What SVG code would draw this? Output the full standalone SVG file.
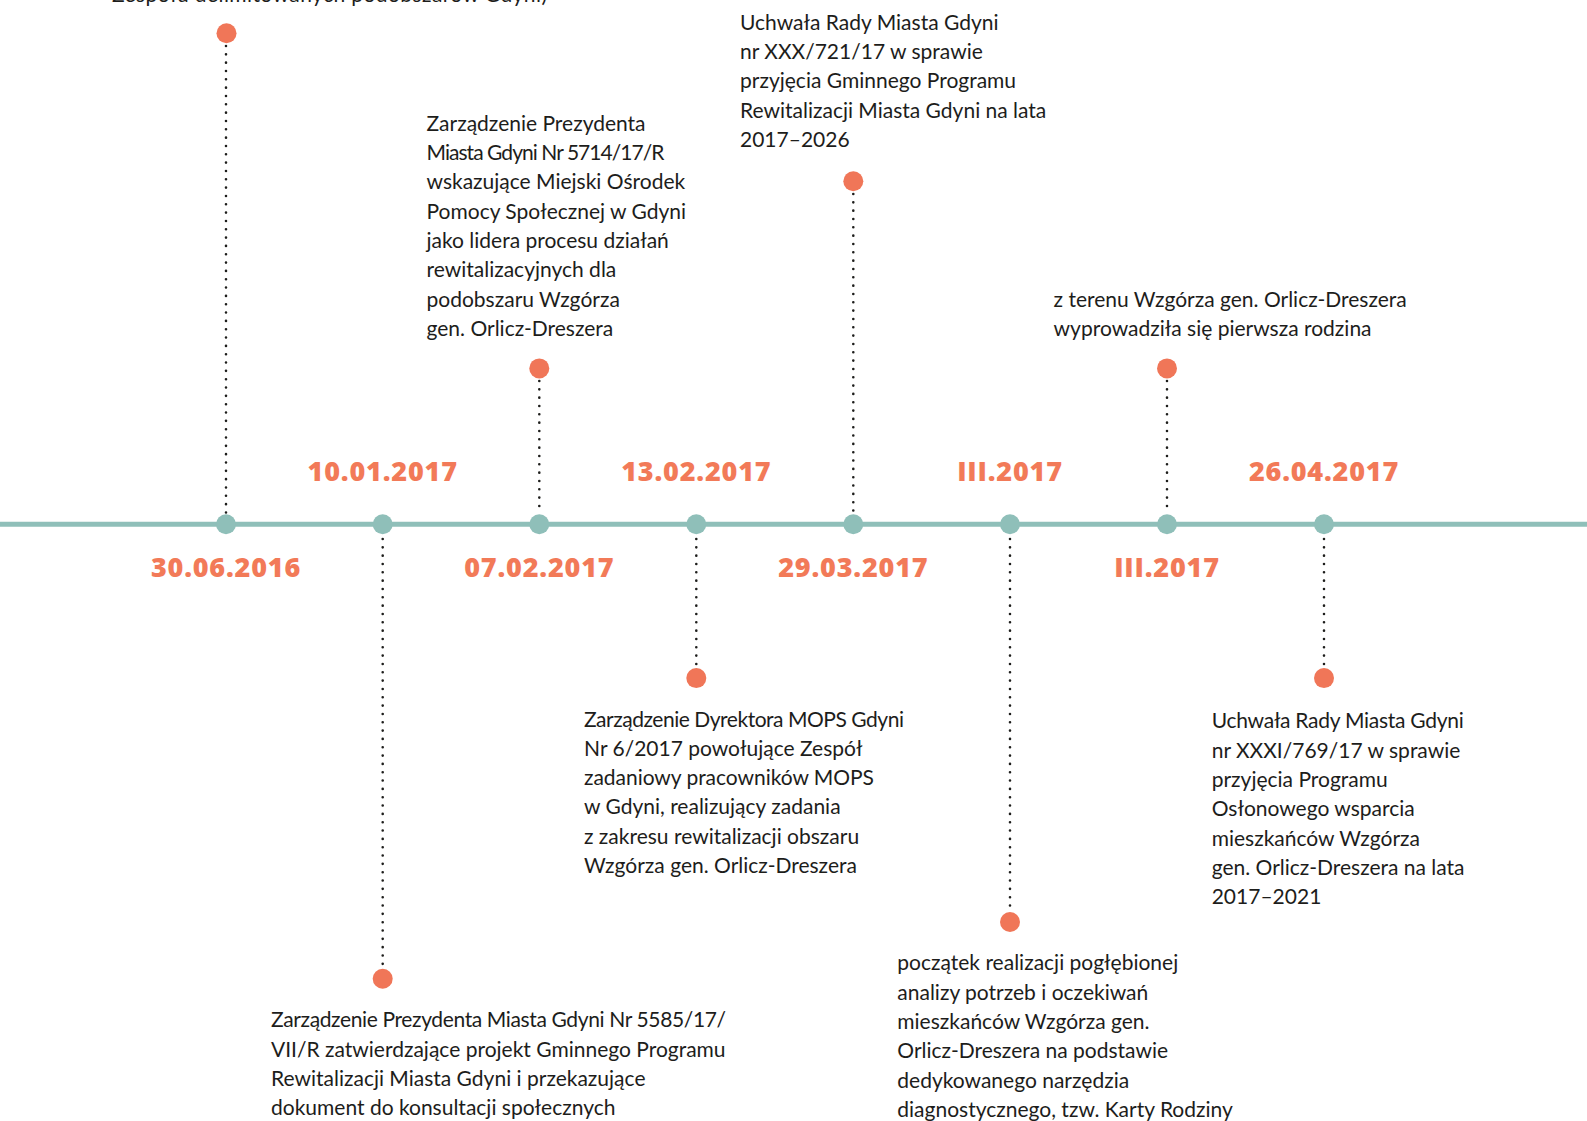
<svg xmlns="http://www.w3.org/2000/svg" width="1587" height="1121" viewBox="0 0 1587 1121">
<style>
.t{font-family:Lato,"Noto Sans",sans-serif;font-size:21px;fill:#1d1d1b}
.d{font-family:"Open Sans","Liberation Sans",sans-serif;font-weight:800;font-size:27px;fill:#f27a58;text-anchor:middle;letter-spacing:0.8px}
.dot{fill:#f07658}
.node{fill:#8fbfb9}
.lead{stroke:#1d1d1b;stroke-width:2.6;stroke-linecap:round;stroke-dasharray:0 8.33;fill:none}
</style>
<rect width="1587" height="1121" fill="#ffffff"/>
<g id="timeline">
<line x1="0" y1="524.3" x2="1587" y2="524.3" stroke="#8fbfb9" stroke-width="5"/>
</g>
<g id="connectors">
<line class="lead" x1="226" y1="46" x2="226" y2="514"/>
<line class="lead" x1="382.7" y1="539" x2="382.7" y2="966"/>
<line class="lead" x1="539.3" y1="381" x2="539.3" y2="514"/>
<line class="lead" x1="696.3" y1="539" x2="696.3" y2="666"/>
<line class="lead" x1="853.3" y1="194" x2="853.3" y2="514"/>
<line class="lead" x1="1010" y1="539" x2="1010" y2="910"/>
<line class="lead" x1="1167" y1="381" x2="1167" y2="514"/>
<line class="lead" x1="1324" y1="539" x2="1324" y2="666"/>
</g>
<g id="event1">
<circle class="node" cx="226" cy="524.3" r="10"/>
<circle class="dot" cx="226.5" cy="33.3" r="10"/>
<text class="d" x="226" y="577">30.06.2016</text>
<text class="t" x="112" y="2" textLength="435">Zespołu delimitowanych podobszarów Gdyni)</text>
</g>
<g id="event2">
<circle class="node" cx="382.7" cy="524.3" r="10"/>
<circle class="dot" cx="382.7" cy="978.7" r="10"/>
<text class="d" x="382.7" y="481">10.01.2017</text>
<text class="t"><tspan x="271" y="1027.4" textLength="455">Zarządzenie Prezydenta Miasta Gdyni Nr 5585/17/</tspan><tspan x="271" y="1056.75">VII/R zatwierdzające projekt Gminnego Programu</tspan><tspan x="271" y="1086.1">Rewitalizacji Miasta Gdyni i przekazujące</tspan><tspan x="271" y="1115.45">dokument do konsultacji społecznych</tspan></text>
</g>
<g id="event3">
<circle class="node" cx="539.3" cy="524.3" r="10"/>
<circle class="dot" cx="539.3" cy="368.4" r="10"/>
<text class="d" x="539.3" y="577">07.02.2017</text>
<text class="t"><tspan x="426.5" y="130.7">Zarządzenie Prezydenta</tspan><tspan x="426.5" y="160.05" textLength="238">Miasta Gdyni Nr 5714/17/R</tspan><tspan x="426.5" y="189.4">wskazujące Miejski Ośrodek</tspan><tspan x="426.5" y="218.75">Pomocy Społecznej w Gdyni</tspan><tspan x="426.5" y="248.1">jako lidera procesu działań</tspan><tspan x="426.5" y="277.45">rewitalizacyjnych dla</tspan><tspan x="426.5" y="306.8">podobszaru Wzgórza</tspan><tspan x="426.5" y="336.15">gen. Orlicz-Dreszera</tspan></text>
</g>
<g id="event4">
<circle class="node" cx="696.3" cy="524.3" r="10"/>
<circle class="dot" cx="696.3" cy="678.1" r="10"/>
<text class="d" x="696.3" y="481">13.02.2017</text>
<text class="t"><tspan x="584" y="727" textLength="320">Zarządzenie Dyrektora MOPS Gdyni</tspan><tspan x="584" y="756.15">Nr 6/2017 powołujące Zespół</tspan><tspan x="584" y="785.3" textLength="290">zadaniowy pracowników MOPS</tspan><tspan x="584" y="814.45">w Gdyni, realizujący zadania</tspan><tspan x="584" y="843.6">z zakresu rewitalizacji obszaru</tspan><tspan x="584" y="872.75">Wzgórza gen. Orlicz-Dreszera</tspan></text>
</g>
<g id="event5">
<circle class="node" cx="853.3" cy="524.3" r="10"/>
<circle class="dot" cx="853.3" cy="181.2" r="10"/>
<text class="d" x="853.3" y="577">29.03.2017</text>
<text class="t"><tspan x="740" y="29.5">Uchwała Rady Miasta Gdyni</tspan><tspan x="740" y="58.9">nr XXX/721/17 w sprawie</tspan><tspan x="740" y="88.3">przyjęcia Gminnego Programu</tspan><tspan x="740" y="117.7">Rewitalizacji Miasta Gdyni na lata</tspan><tspan x="740" y="147.1">2017–2026</tspan></text>
</g>
<g id="event6">
<circle class="node" cx="1010" cy="524.3" r="10"/>
<circle class="dot" cx="1010" cy="922" r="10"/>
<text class="d" x="1010" y="481">III.2017</text>
<text class="t"><tspan x="897.3" y="970.3">początek realizacji pogłębionej</tspan><tspan x="897.3" y="999.65">analizy potrzeb i oczekiwań</tspan><tspan x="897.3" y="1029">mieszkańców Wzgórza gen.</tspan><tspan x="897.3" y="1058.35">Orlicz-Dreszera na podstawie</tspan><tspan x="897.3" y="1087.7">dedykowanego narzędzia</tspan><tspan x="897.3" y="1117.05">diagnostycznego, tzw. Karty Rodziny</tspan></text>
</g>
<g id="event7">
<circle class="node" cx="1167" cy="524.3" r="10"/>
<circle class="dot" cx="1167" cy="368.4" r="10"/>
<text class="d" x="1167" y="577">III.2017</text>
<text class="t"><tspan x="1053.6" y="306.5">z terenu Wzgórza gen. Orlicz-Dreszera</tspan><tspan x="1053.6" y="335.85">wyprowadziła się pierwsza rodzina</tspan></text>
</g>
<g id="event8">
<circle class="node" cx="1324" cy="524.3" r="10"/>
<circle class="dot" cx="1324" cy="678.1" r="10"/>
<text class="d" x="1324" y="481">26.04.2017</text>
<text class="t"><tspan x="1211.7" y="728.3" textLength="252">Uchwała Rady Miasta Gdyni</tspan><tspan x="1211.7" y="757.65">nr XXXI/769/17 w sprawie</tspan><tspan x="1211.7" y="787">przyjęcia Programu</tspan><tspan x="1211.7" y="816.35">Osłonowego wsparcia</tspan><tspan x="1211.7" y="845.7">mieszkańców Wzgórza</tspan><tspan x="1211.7" y="875.05">gen. Orlicz-Dreszera na lata</tspan><tspan x="1211.7" y="904.4">2017–2021</tspan></text>
</g>
</svg>
